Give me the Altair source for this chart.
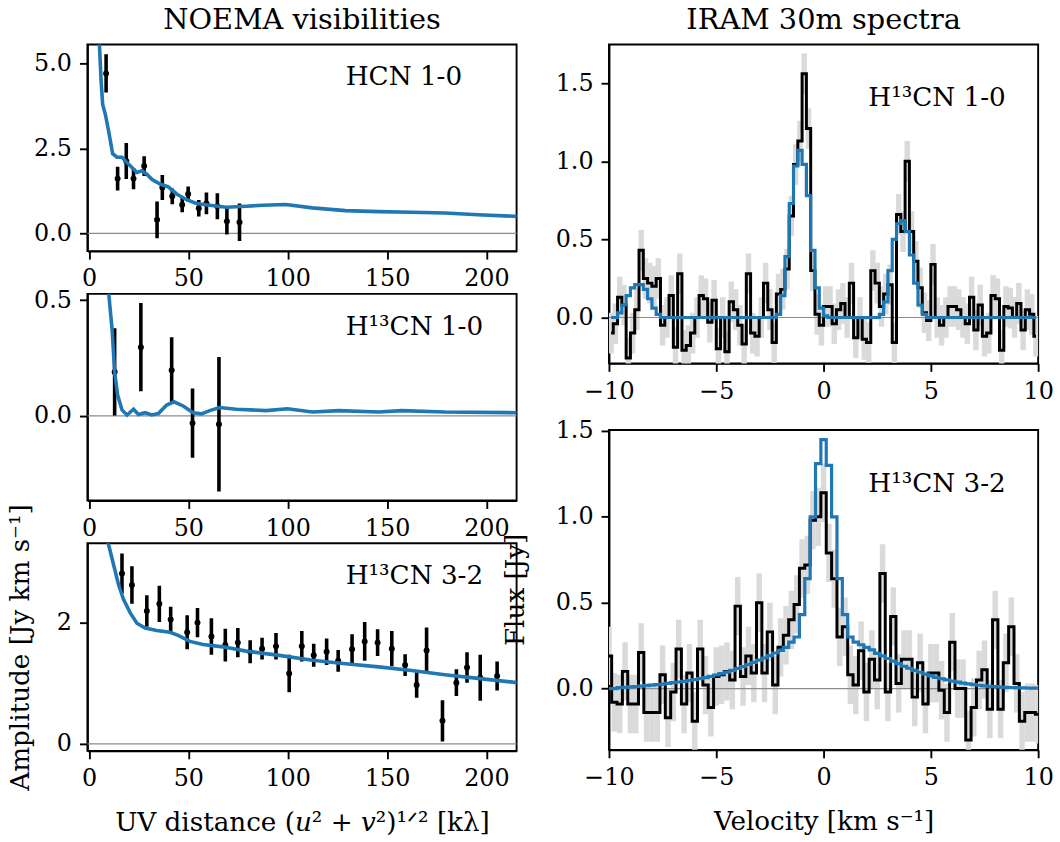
import altair as alt
import pandas as pd

FONT = "DejaVu Serif"
BLUE = "#1f77b4"

# ---------------- NOEMA visibilities ----------------
# HCN 1-0
hcn_uv = [8.6, 14.4, 18.75, 22.4, 27.75, 34.25, 36.9, 41.9, 46.9, 49.9, 55.25, 59.1, 64.6, 69.4, 75.75]
hcn_amp = [4.70, 1.61, 2.13, 1.61, 1.98, 0.40, 1.35, 1.09, 0.84, 1.16, 0.74, 0.88, 0.80, 0.36, 0.33]
hcn_err = [0.56, 0.35, 0.53, 0.31, 0.29, 0.54, 0.37, 0.23, 0.22, 0.22, 0.24, 0.32, 0.38, 0.39, 0.55]
hcn_model_uv = [4.5, 6.1, 6.9, 8.25, 9.9, 11.9, 14.1, 16.6, 19.1, 24.1, 26.6, 29.1, 31.6, 35.75,
                39.9, 44.1, 49.1, 54.1, 60.75, 69.1, 79.1, 87.4, 99.1, 112.4, 129.1, 145.75,
                162.4, 179.1, 195.75, 215.4]
hcn_model_amp = [6.5, 4.46, 3.78, 3.49, 3.0, 2.34, 2.24, 2.24, 2.08, 1.79, 1.84, 1.74, 1.59, 1.45,
                 1.37, 1.16, 0.99, 0.88, 0.83, 0.77, 0.80, 0.83, 0.85, 0.75, 0.67, 0.64,
                 0.62, 0.60, 0.55, 0.50]

# H13CN 1-0
h13a_uv = [12.9, 26.1, 41.6, 52.1, 65.4]
h13a_amp = [0.19, 0.297, 0.197, -0.031, -0.036]
h13a_err = [0.188, 0.19, 0.143, 0.149, 0.29]
h13a_model_uv = [8.5, 9.9, 11.6, 12.9, 14.4, 16.6, 19.1, 22.4, 24.9, 28.25, 31.6, 34.9, 39.1,
                 42.75, 47.4, 52.4, 56.6, 60.75, 65.75, 74.1, 89.1, 99.9, 112.4, 125.75,
                 145.75, 157.4, 179.1, 215.4]
h13a_model_amp = [0.75, 0.53, 0.376, 0.19, 0.09, 0.026, 0.004, 0.029, 0.006, 0.014, 0.004, 0.01,
                  0.047, 0.061, 0.043, 0.014, 0.009, 0.023, 0.036, 0.029, 0.023, 0.031, 0.017,
                  0.023, 0.017, 0.023, 0.017, 0.014]

# H13CN 3-2
h13b_uv = [16.6, 21.6, 29.1, 35.4, 41.1, 49.4, 54.6, 61.6, 68.6, 74.9, 81.1, 87.1, 94.1, 100.75,
           107.1, 113.1, 119.6, 125.4, 132.4, 138.75, 145.25, 152.4, 159.1, 164.9, 169.9,
           177.9, 184.9, 190.25, 196.9, 205.4]
h13b_amp = [2.81, 2.62, 2.19, 2.31, 2.05, 1.84, 2.00, 1.77, 1.63, 1.67, 1.52, 1.57, 1.61, 1.16,
            1.61, 1.46, 1.52, 1.37, 1.56, 1.69, 1.67, 1.57, 1.30, 0.97, 1.54, 0.38, 1.01,
            1.26, 1.09, 1.12]
h13b_err = [0.33, 0.31, 0.26, 0.30, 0.21, 0.28, 0.24, 0.30, 0.27, 0.24, 0.19, 0.18, 0.22, 0.31,
            0.25, 0.19, 0.22, 0.18, 0.25, 0.32, 0.22, 0.29, 0.18, 0.21, 0.38, 0.34, 0.22,
            0.25, 0.38, 0.24]
h13b_model_uv = [7.0, 9.9, 12.4, 14.9, 17.4, 20.75, 24.1, 28.25, 34.1, 40.75, 44.9, 50.75, 57.4,
                 67.4, 79.1, 95.75, 112.4, 129.1, 145.75, 162.4, 179.1, 195.75, 215.4]
h13b_model_amp = [3.6, 3.28, 2.95, 2.62, 2.38, 2.16, 1.99, 1.91, 1.87, 1.84, 1.79, 1.69, 1.64,
                  1.60, 1.53, 1.46, 1.38, 1.32, 1.27, 1.21, 1.14, 1.08, 1.01]

# ---------------- IRAM 30m spectra ----------------
# H13CN 1-0 (channel centres, km/s)
spec10_vel = [-9.9, -9.7, -9.5, -9.3, -9.1, -8.9, -8.7, -8.5, -8.3, -8.1,
              -7.9, -7.7, -7.5, -7.3, -7.1, -6.9, -6.7, -6.5, -6.3, -6.1,
              -5.9, -5.7, -5.5, -5.3, -5.1, -4.9, -4.7, -4.5, -4.3, -4.1,
              -3.9, -3.7, -3.5, -3.3, -3.1, -2.9, -2.7, -2.5, -2.3, -2.1,
              -1.9, -1.7, -1.5, -1.3, -1.1, -0.9, -0.7, -0.5, -0.3, -0.1,
              0.1, 0.3, 0.5, 0.7, 0.9, 1.1, 1.3, 1.5, 1.7, 1.9,
              2.1, 2.3, 2.5, 2.7, 2.9, 3.1, 3.3, 3.5, 3.7, 3.9,
              4.1, 4.3, 4.5, 4.7, 4.9, 5.1, 5.3, 5.5, 5.7, 5.9,
              6.1, 6.3, 6.5, 6.7, 6.9, 7.1, 7.3, 7.5, 7.7, 7.9,
              8.1, 8.3, 8.5, 8.7, 8.9, 9.1, 9.3, 9.5, 9.7, 9.9]
spec10_obs = [-0.10, -0.04, 0.13, 0.08, -0.26, -0.10, 0.05, 0.43, 0.25, 0.22,
              0.20, 0.25, -0.05, 0.00, 0.14, -0.19, 0.28, -0.21, -0.18, -0.10,
              0.00, 0.14, 0.12, -0.03, 0.11, -0.20, 0.00, -0.22, 0.10, 0.05,
              -0.05, -0.17, 0.28, -0.10, -0.12, 0.00, 0.22, 0.05, -0.16, 0.15,
              0.18, 0.31, 0.65, 0.98, 1.13, 1.56, 1.21, 0.30, 0.02, -0.05,
              0.07, 0.07, -0.04, 0.05, 0.09, 0.00, 0.22, -0.13, 0.00, -0.14,
              -0.16, 0.30, 0.22, 0.07, 0.15, 0.21, -0.16, 0.66, 0.55, 1.00,
              0.55, 0.36, 0.19, 0.03, -0.02, 0.34, 0.00, -0.05, 0.00, 0.07,
              0.07, 0.05, 0.00, -0.04, 0.13, -0.08, 0.08, -0.12, -0.10, 0.14,
              0.12, -0.21, 0.07, 0.06, 0.00, 0.09, -0.08, 0.05, 0.02, -0.12]
spec10_model = [0.0, 0.0, 0.03, 0.08, 0.14, 0.19, 0.21, 0.21, 0.18, 0.12,
                0.06, 0.02, 0.0, 0.0, 0.0, 0.0, 0.0, 0.0, 0.0, 0.0,
                0.0, 0.0, 0.0, 0.0, 0.0, 0.0, 0.0, 0.0, 0.0, 0.0,
                0.0, 0.0, 0.0, 0.0, 0.0, 0.0, 0.0, 0.0, 0.0, 0.02,
                0.14, 0.39, 0.73, 0.97, 1.07, 0.98, 0.78, 0.43, 0.19, 0.06,
                0.01, 0.0, 0.0, 0.0, 0.0, 0.0, 0.0, 0.0, 0.0, 0.0,
                0.0, 0.0, 0.0, 0.02, 0.10, 0.30, 0.50, 0.60, 0.62, 0.55,
                0.40, 0.22, 0.08, 0.02, 0.0, 0.0, 0.0, 0.0, 0.0, 0.0,
                0.0, 0.0, 0.0, 0.0, 0.0, 0.0, 0.0, 0.0, 0.0, 0.0,
                0.0, 0.0, 0.0, 0.0, 0.0, 0.0, 0.0, 0.0, 0.0, 0.0]
spec10_rms = 0.13

# H13CN 3-2
spec32_vel = [-10.0, -9.75, -9.5, -9.25, -9.0, -8.75, -8.5, -8.25, -8.0, -7.75,
              -7.5, -7.25, -7.0, -6.75, -6.5, -6.25, -6.0, -5.75, -5.5, -5.25,
              -5.0, -4.75, -4.5, -4.25, -4.0, -3.75, -3.5, -3.25, -3.0, -2.75,
              -2.5, -2.25, -2.0, -1.75, -1.5, -1.25, -1.0, -0.75, -0.5, -0.25,
              0.0, 0.25, 0.5, 0.75, 1.0, 1.25, 1.5, 1.75, 2.0, 2.25,
              2.5, 2.75, 3.0, 3.25, 3.5, 3.75, 4.0, 4.25, 4.5, 4.75,
              5.0, 5.25, 5.5, 5.75, 6.0, 6.25, 6.5, 6.75, 7.0, 7.25,
              7.5, 7.75, 8.0, 8.25, 8.5, 8.75, 9.0, 9.25, 9.5, 9.75, 10.0]
spec32_obs = [0.19, -0.08, -0.09, 0.10, -0.09, -0.09, 0.21, -0.14, -0.14, -0.14,
              0.08, -0.17, -0.02, 0.23, -0.09, 0.09, -0.19, 0.23, 0.02, -0.11,
              0.07, 0.08, 0.10, 0.05, 0.48, 0.07, 0.19, 0.09, 0.50, 0.09,
              0.33, 0.02, 0.24, 0.31, 0.40, 0.49, 0.70, 0.72, 0.98, 1.00,
              1.14, 0.79, 0.64, 0.30, 0.36, 0.08, 0.02, 0.22, -0.02, 0.17,
              0.05, 0.67, -0.02, 0.42, 0.03, 0.17, 0.17, -0.05, 0.15, -0.09,
              0.09, 0.09, -0.01, -0.14, 0.27, 0.00, 0.00, -0.30, -0.11, 0.05,
              0.11, -0.12, 0.40, -0.12, 0.15, 0.36, 0.03, -0.19, -0.14, -0.14, -0.15]
spec32_model = [0.0, 0.0, 0.005, 0.007, 0.01, 0.012, 0.014, 0.017, 0.02, 0.023,
                0.026, 0.03, 0.034, 0.038, 0.042, 0.047, 0.052, 0.058, 0.064, 0.071,
                0.079, 0.087, 0.096, 0.106, 0.117, 0.128, 0.14, 0.152, 0.165, 0.178,
                0.192, 0.207, 0.222, 0.24, 0.27, 0.30, 0.43, 0.64, 1.00, 1.31,
                1.45, 1.30, 1.00, 0.64, 0.43, 0.30, 0.27, 0.255, 0.24, 0.225,
                0.205, 0.19, 0.175, 0.16, 0.145, 0.13, 0.118, 0.106, 0.095, 0.084,
                0.074, 0.065, 0.057, 0.05, 0.043, 0.037, 0.032, 0.027, 0.023, 0.019,
                0.016, 0.013, 0.011, 0.009, 0.007, 0.006, 0.005, 0.004, 0.003, 0.002, 0.002]
spec32_rms = 0.17

UV_TICKS = [0, 50, 100, 150, 200]
VEL_TICKS = [-10, -5, 0, 5, 10]
PANEL_W = 432
AX_TITLE = 26.4


def vis_panel(uv, amp, err, muv, mamp, ydom, yvals, yfmt, label, height,
              xtitle=None, ytitle=None, title=None, side_label=None):
    xs = alt.Scale(domain=[-0.8, 215.2], nice=False, zero=False)
    ys = alt.Scale(domain=ydom, nice=False, zero=False)
    xkw = dict(values=UV_TICKS, format="d", title=xtitle)
    if xtitle:
        xkw["titlePadding"] = 19
    xax = alt.Axis(**xkw)
    ykw = dict(values=yvals, format=yfmt, title=ytitle)
    if ytitle:
        ykw.update(titleX=-67, titleY=height / 2, titleAngle=270,
                   titleAlign="center", titleBaseline="middle")
    yax = alt.Axis(**ykw)
    pts = pd.DataFrame({"uv": uv, "amp": amp, "err": err})
    mod = pd.DataFrame({"uv": muv, "amp": mamp})
    zero = alt.Chart(pd.DataFrame({"z": [0.0]})).mark_rule(
        color="#8c8c8c", strokeWidth=1.2).encode(
        y=alt.Y("z:Q", scale=ys, axis=yax))
    bars = alt.Chart(pts).transform_calculate(
        lo="datum.amp - datum.err", hi="datum.amp + datum.err"
    ).mark_rule(color="black", strokeWidth=3.6, clip=True).encode(
        x=alt.X("uv:Q", scale=xs, axis=xax),
        y=alt.Y("lo:Q", scale=ys, axis=yax),
        y2="hi:Q")
    dots = alt.Chart(pts).mark_circle(color="black", size=36, opacity=1, clip=True).encode(
        x=alt.X("uv:Q", scale=xs, axis=xax),
        y=alt.Y("amp:Q", scale=ys, axis=yax))
    line = alt.Chart(mod).mark_line(color=BLUE, strokeWidth=3.6, clip=True).encode(
        x=alt.X("uv:Q", scale=xs, axis=xax),
        y=alt.Y("amp:Q", scale=ys, axis=yax))
    txt = alt.Chart(pd.DataFrame({"t": [label]})).mark_text(
        font=FONT, fontSize=26.4, align="left", baseline="alphabetic", color="black").encode(
        x=alt.value(260), y=alt.value(41), text="t:N")
    layers = [zero, bars, dots, line, txt]
    if side_label:
        # y-axis label of the bottom-right spectrum, which sits on the border between the columns
        layers.append(alt.Chart(pd.DataFrame({"t": [side_label]})).mark_text(
            font=FONT, fontSize=AX_TITLE, align="center", baseline="middle", angle=270,
            color="black").encode(x=alt.value(431), y=alt.value(47), text="t:N"))
    ch = alt.layer(*layers).properties(width=PANEL_W, height=height)
    if title:
        ch = ch.properties(title=alt.Title(title, offset=10, anchor="middle"))
    return ch


def spec_panel(vel, obs, model, rms, ydom, label, height, xtitle=None, title=None):
    xs = alt.Scale(domain=[-10, 10], nice=False, zero=False)
    ys = alt.Scale(domain=ydom, nice=False, zero=False)
    xkw = dict(values=VEL_TICKS, format="d", title=xtitle)
    if xtitle:
        xkw["titlePadding"] = 19
    xax = alt.Axis(**xkw)
    yax = alt.Axis(values=[0, 0.5, 1.0, 1.5], format=".1f", title=None)
    df = pd.DataFrame({"v": vel, "obs": obs, "mod": model})
    grey = alt.Chart(df).transform_calculate(
        lo=f"datum.obs - {rms}", hi=f"datum.obs + {rms}"
    ).mark_rule(color="#dadada", strokeWidth=5.5, clip=True).encode(
        x=alt.X("v:Q", scale=xs, axis=xax),
        y=alt.Y("lo:Q", scale=ys, axis=yax),
        y2="hi:Q")
    zero = alt.Chart(pd.DataFrame({"z": [0.0]})).mark_rule(
        color="#8c8c8c", strokeWidth=1.2).encode(
        y=alt.Y("z:Q", scale=ys, axis=yax))
    black = alt.Chart(df).mark_line(color="black", strokeWidth=3.0, interpolate="step",
                                    clip=True).encode(
        x=alt.X("v:Q", scale=xs, axis=xax),
        y=alt.Y("obs:Q", scale=ys, axis=yax))
    blue = alt.Chart(df).mark_line(color=BLUE, strokeWidth=3.2, interpolate="step",
                                   clip=True).encode(
        x=alt.X("v:Q", scale=xs, axis=xax),
        y=alt.Y("mod:Q", scale=ys, axis=yax))
    txt = alt.Chart(pd.DataFrame({"t": [label]})).mark_text(
        font=FONT, fontSize=26.4, align="left", baseline="alphabetic", color="black").encode(
        x=alt.value(261), y=alt.value(62), text="t:N")
    ch = alt.layer(grey, zero, black, blue, txt).properties(width=PANEL_W, height=height)
    if title:
        ch = ch.properties(title=alt.Title(title, offset=10, anchor="middle"))
    return ch


p1 = vis_panel(hcn_uv, hcn_amp, hcn_err, hcn_model_uv, hcn_model_amp,
               [-0.52, 5.55], [0, 2.5, 5.0], ".1f", "HCN 1-0", 208,
               title="NOEMA visibilities")
p2 = vis_panel(h13a_uv, h13a_amp, h13a_err, h13a_model_uv, h13a_model_amp,
               [-0.365, 0.527], [0, 0.5], ".1f", "H¹³CN 1-0", 208)
p3 = vis_panel(h13b_uv, h13b_amp, h13b_err, h13b_model_uv, h13b_model_amp,
               [-0.115, 3.31], [0, 2], "d", "H¹³CN 3-2", 209,
               xtitle="UV distance (𝑢² + 𝑣²)¹ᐟ² [kλ]", ytitle="Amplitude [Jy km s⁻¹]",
               side_label="Flux [Jy]")

s1 = spec_panel(spec10_vel, spec10_obs, spec10_model, spec10_rms, [-0.294, 1.748],
                "H¹³CN 1-0", 321, title="IRAM 30m spectra")
s2 = spec_panel(spec32_vel, spec32_obs, spec32_model, spec32_rms, [-0.357, 1.506],
                "H¹³CN 3-2", 322, xtitle="Velocity [km s⁻¹]")

left = alt.vconcat(p1, p2, p3, spacing=43, bounds="flush")
right = alt.vconcat(s1, s2, spacing=67, bounds="flush")

chart = alt.hconcat(left, right, spacing=23).properties(
    padding={"left": 7, "top": 2, "right": 5, "bottom": 5},
    background="white",
).configure_axis(
    labelFont=FONT, titleFont=FONT, labelFontSize=24, titleFontSize=AX_TITLE,
    labelColor="black", titleColor="black", titleFontWeight="normal",
    domainColor="black", domainWidth=1.9, tickColor="black", tickWidth=1.9,
    tickSize=8, labelPadding=8, labelFlush=False, grid=False,
).configure_view(
    stroke="black", strokeWidth=1.9,
).configure_title(
    font=FONT, fontSize=29, fontWeight="normal", color="black",
)

chart.save("out.html", embed_options={"renderer": "svg", "actions": False})
